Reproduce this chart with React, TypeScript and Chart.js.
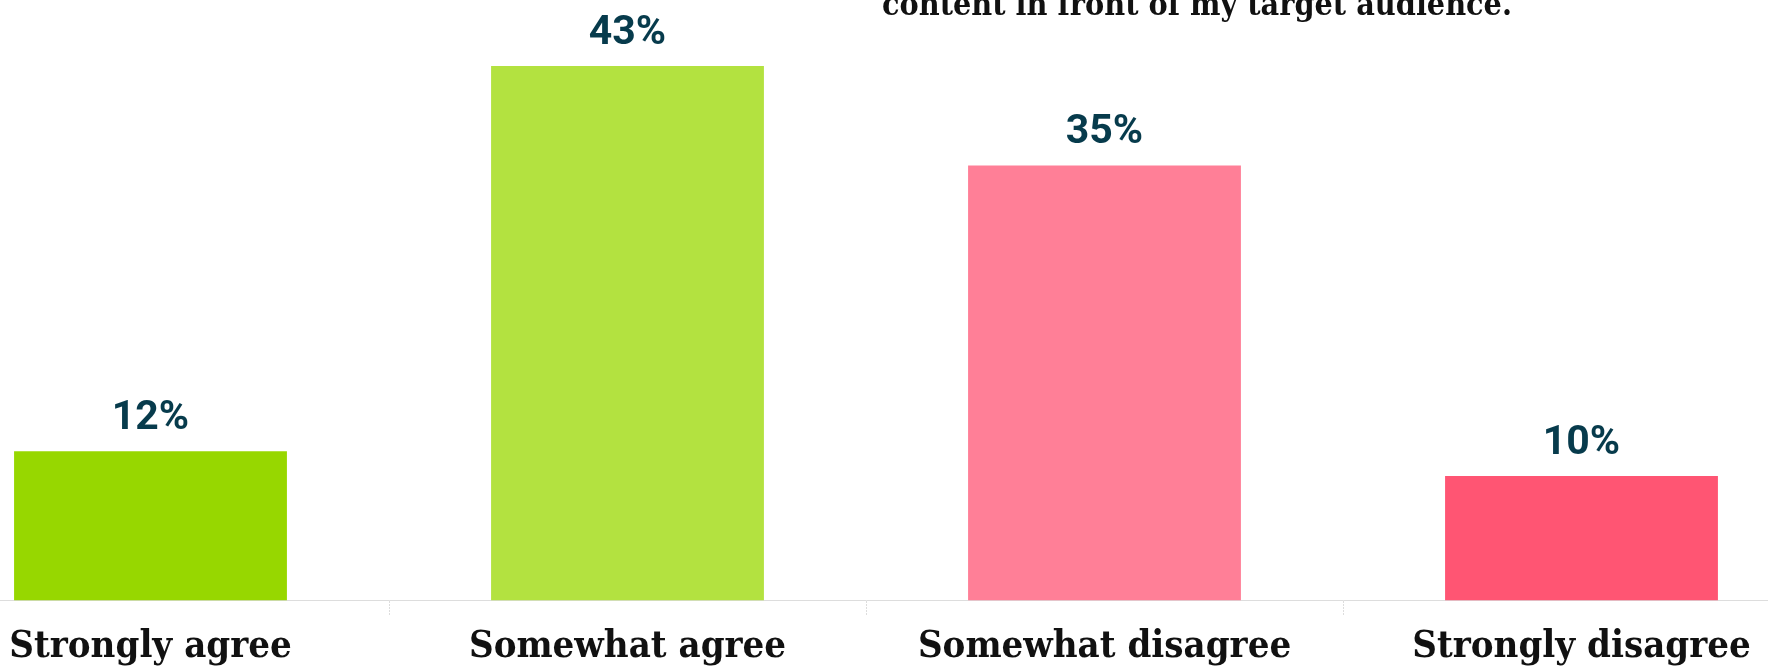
import React, { useEffect, useRef } from "react";
import { Chart, registerables } from "chart.js";

Chart.register(...registerables);

const categories = ["Strongly agree", "Somewhat agree", "Somewhat disagree", "Strongly disagree"];
const values = [12, 43, 35, 10];
const barColors = ["#97d700", "#b3e240", "#ff7f97", "#ff5573"];
const titleLine = "content in front of my target audience.";

const CANVAS_LEFT = -88;
const CANVAS_TOP = -21;
const CANVAS_W = 1908;
const CANVAS_H = 700;

const valueLabelPlugin = {
  id: "valueLabels",
  afterDatasetsDraw(chart: any) {
    const ctx = chart.ctx;
    const meta = chart.getDatasetMeta(0);
    ctx.save();
    ctx.font = "bold 41px Roboto, 'Noto Sans', sans-serif";
    ctx.fillStyle = "#073b4c";
    ctx.textAlign = "center";
    ctx.textBaseline = "alphabetic";
    meta.data.forEach((el: any, i: number) => {
      ctx.fillText(`${values[i]}%`, el.x, el.y - 22);
    });
    ctx.restore();
  },
};

const titlePlugin = {
  id: "cutTitle",
  afterDraw(chart: any) {
    const ctx = chart.ctx;
    ctx.save();
    ctx.font = "bold 32px 'DejaVu Serif Condensed', 'DejaVu Serif', serif";
    ctx.fillStyle = "#111111";
    ctx.textAlign = "center";
    ctx.textBaseline = "alphabetic";
    ctx.fillText(titleLine, 1197 - CANVAS_LEFT, 15 - CANVAS_TOP);
    ctx.restore();
  },
};

export default function App() {
  const ref = useRef<HTMLCanvasElement | null>(null);
  useEffect(() => {
    if (!ref.current) return;
    const chart = new Chart(ref.current, {
      type: "bar",
      data: {
        labels: categories,
        datasets: [
          {
            data: values,
            backgroundColor: barColors,
            borderWidth: 0,
            categoryPercentage: 1,
            barPercentage: 0.572,
          },
        ],
      },
      options: {
        animation: false,
        responsive: false,
        layout: { padding: 0 },
        plugins: {
          legend: { display: false },
          title: { display: false },
          tooltip: { enabled: false },
        },
        scales: {
          x: {
            type: "category",
            offset: true,
            grid: {
              display: true,
              offset: true,
              drawOnChartArea: false,
              drawTicks: true,
              tickLength: 15,
              color: "#dddddd",
              tickBorderDash: [2, 1],
            } as any,
            border: { display: true, color: "#dddddd", dash: [2, 1] },
            ticks: {
              color: "#111111",
              padding: 9,
              font: {
                family: "'DejaVu Serif Condensed', 'DejaVu Serif', serif",
                weight: "bold",
                size: 38,
              },
              maxRotation: 0,
              autoSkip: false,
            },
          },
          y: {
            display: false,
            min: 0,
            max: 50,
          },
        },
      },
      plugins: [valueLabelPlugin, titlePlugin],
    });
    return () => chart.destroy();
  }, []);

  return (
    <div style={{ position: "fixed", left: 0, top: 0, width: 1768, height: 666, overflow: "hidden", background: "#fff" }}>
      <canvas
        ref={ref}
        width={CANVAS_W}
        height={CANVAS_H}
        style={{ position: "absolute", left: CANVAS_LEFT, top: CANVAS_TOP, width: CANVAS_W, height: CANVAS_H }}
      />
    </div>
  );
}
